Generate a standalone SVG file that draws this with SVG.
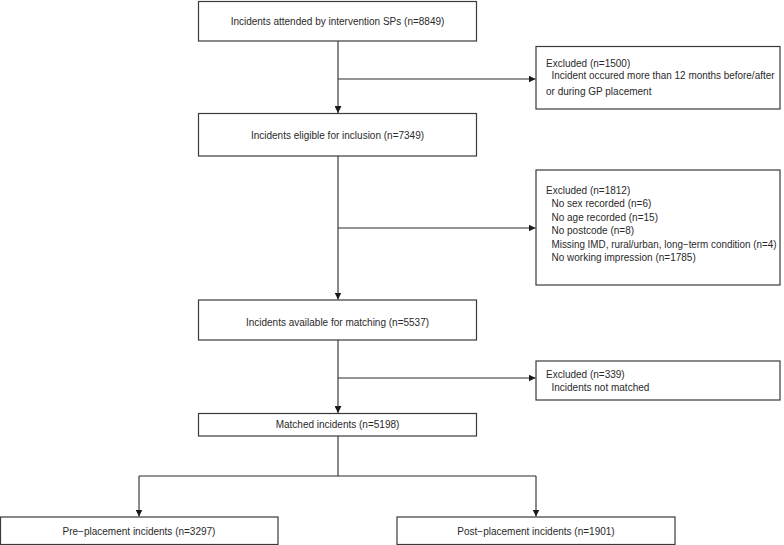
<svg xmlns="http://www.w3.org/2000/svg" width="784" height="545" viewBox="0 0 784 545">
<defs>
<style>
.box{fill:#fff;stroke:#3a3a3a;stroke-width:1.2}
.t{font-family:"Liberation Sans",Arial,sans-serif;font-size:10px;fill:#2a2a2a}
.c{text-anchor:middle}
.ln{fill:none;stroke:#2a2a2a;stroke-width:1.1}
</style>
<marker id="ah" viewBox="0 0 10 10" refX="10" refY="5" markerWidth="7" markerHeight="7" markerUnits="userSpaceOnUse" orient="auto">
<path d="M0,0 L10,5 L0,10 Z" fill="#1a1a1a"/>
</marker>
</defs>
<rect width="784" height="545" fill="#fff"/>
<g id="connectors">
<path class="ln" d="M338,41 V113" marker-end="url(#ah)"/>
<path class="ln" d="M338,79 H535.5" marker-end="url(#ah)"/>
<path class="ln" d="M338,156 V299.5" marker-end="url(#ah)"/>
<path class="ln" d="M338,228 H535.5" marker-end="url(#ah)"/>
<path class="ln" d="M338,340 V413" marker-end="url(#ah)"/>
<path class="ln" d="M338,378 H535.5" marker-end="url(#ah)"/>
<path class="ln" d="M338,436 V476 M139,476 H536" />
<path class="ln" d="M139,476 V516.5" marker-end="url(#ah)"/>
<path class="ln" d="M536,476 V516.5" marker-end="url(#ah)"/>
</g>
<g id="n1">
<rect class="box" x="198.5" y="1.5" width="278" height="39.5"/>
<text class="t c" x="337.5" y="24.5">Incidents attended by intervention SPs (n=8849)</text>
</g>
<g id="ex1">
<rect class="box" x="536" y="46.5" width="244" height="62.5"/>
<text class="t" x="546" y="67">Excluded (n=1500)</text>
<text class="t" x="551.5" y="79" textLength="223" lengthAdjust="spacingAndGlyphs">Incident occured more than 12 months before/after</text>
<text class="t" x="546" y="94.5">or during GP placement</text>
</g>
<g id="n2">
<rect class="box" x="198.5" y="113.5" width="278" height="42.5"/>
<text class="t c" x="337.5" y="139">Incidents eligible for inclusion (n=7349)</text>
</g>
<g id="ex2">
<rect class="box" x="536" y="170" width="244" height="115"/>
<text class="t" x="546" y="193.5">Excluded (n=1812)</text>
<text class="t" x="551.5" y="207">No sex recorded (n=6)</text>
<text class="t" x="551.5" y="220.5">No age recorded (n=15)</text>
<text class="t" x="551.5" y="234">No postcode (n=8)</text>
<text class="t" x="551.5" y="247.5" textLength="225" lengthAdjust="spacingAndGlyphs">Missing IMD, rural/urban, long−term condition (n=4)</text>
<text class="t" x="551.5" y="261">No working impression (n=1785)</text>
</g>
<g id="n3">
<rect class="box" x="198.5" y="300" width="278" height="40"/>
<text class="t c" x="337.5" y="326">Incidents available for matching (n=5537)</text>
</g>
<g id="ex3">
<rect class="box" x="536" y="361" width="244" height="39"/>
<text class="t" x="546" y="377.5">Excluded (n=339)</text>
<text class="t" x="551.5" y="391">Incidents not matched</text>
</g>
<g id="n4">
<rect class="box" x="198.5" y="413.5" width="278" height="22.5"/>
<text class="t c" x="337.5" y="428">Matched incidents (n=5198)</text>
</g>
<g id="n5">
<rect class="box" x="0.5" y="517" width="277.5" height="27.5"/>
<text class="t c" x="139" y="534.5">Pre−placement incidents (n=3297)</text>
</g>
<g id="n6">
<rect class="box" x="397" y="517" width="278" height="27.5"/>
<text class="t c" x="536" y="534.5">Post−placement incidents (n=1901)</text>
</g>
</svg>
